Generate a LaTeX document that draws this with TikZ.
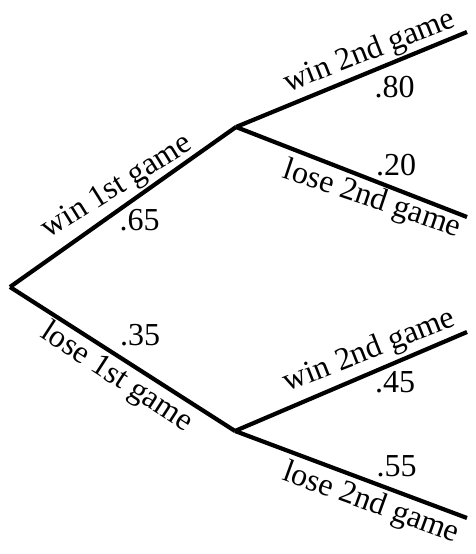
\documentclass[tikz,border=0pt]{standalone}
\usepackage{fontspec}
\setmainfont{Liberation Serif}
\usepackage{tikz}

\begin{document}
\begin{tikzpicture}[x=1pt, y=-1pt,
  branch/.style={line width=4.2pt},
  txt/.style={font=\fontsize{32}{38}\selectfont, inner sep=0pt}]
  \useasboundingbox (0,0) rectangle (475,554);

  % Tree points
  \coordinate (R) at (10,287);
  \coordinate (W) at (236,127);
  \coordinate (L) at (235,431);
  \coordinate (WW) at (467,32);
  \coordinate (WL) at (467,217);
  \coordinate (LW) at (467,332);
  \coordinate (LL) at (467,518);

  % Branches
  \draw[branch] (R) -- (W);
  \draw[branch] (R) -- (L);
  \draw[branch] (W) -- (WW);
  \draw[branch] (W) -- (WL);
  \draw[branch] (L) -- (LW);
  \draw[branch] (L) -- (LL);

  % First game labels
  \node[txt, rotate=32] (w1) at (117.5,187.5) {win 1st game};
  \node[txt] (p65) at (139.5,220) {.65};
  \node[txt, rotate=-33] (l1) at (116.5,378) {lose 1st game};
  \node[txt] (p35) at (140,335.5) {.35};

  % Second game labels
  \node[txt, rotate=21.5] (ww) at (370,52) {win 2nd game};
  \node[txt] (p80) at (394.5,87) {.80};
  \node[txt, rotate=-18.5] (wl) at (372,200) {lose 2nd game};
  \node[txt] (p20) at (396,165) {.20};
  \node[txt, rotate=21.5] (lw) at (369.5,351.5) {win 2nd game};
  \node[txt] (p45) at (395,382.5) {.45};
  \node[txt, rotate=-20] (ll) at (371,504) {lose 2nd game};
  \node[txt] (p55) at (396.5,466) {.55};
\end{tikzpicture}
\end{document}
